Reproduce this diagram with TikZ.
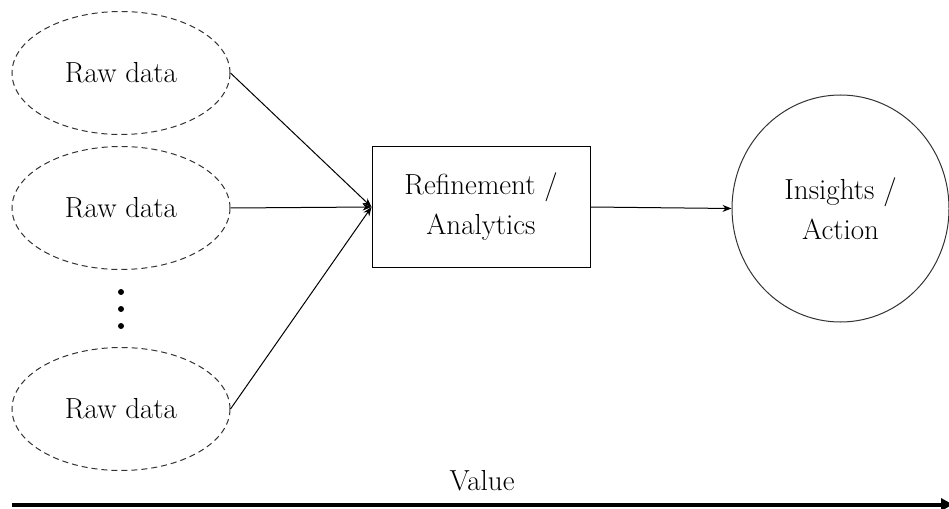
\documentclass[tikz,border=0pt]{standalone}
\usepackage{tikz}
\usetikzlibrary{shapes,arrows.meta,positioning,calc}

\begin{document}
\begin{tikzpicture}[
    x=1pt, y=-1pt,
    every node/.style={font=\fontsize{29}{40}\selectfont},
    source/.style={ellipse, draw=black!80, dashed, dash pattern=on 6pt off 4pt, line width=1pt, minimum width=218pt, minimum height=123pt, inner sep=0pt},
    process/.style={rectangle, draw, line width=1pt, minimum width=218pt, minimum height=121pt, align=center},
    result/.style={ellipse, draw=black!80, line width=1pt, minimum width=217pt, minimum height=227pt, align=center, inner sep=0pt},
    flow/.style={-{Stealth[length=9pt,width=7pt]}, line width=1pt},
]
    \useasboundingbox (0,0) rectangle (949,508);

    % Raw data sources
    \node[source] (raw_a) at (121,73) {Raw data};
    \node[source] (raw_b) at (121,208) {Raw data};
    \node[source] (raw_n) at (121,409) {Raw data};
    \foreach \y in {292,309,326}
        \fill (121,\y) circle (3pt);

    % Refinement and outcome
    \node[process] (refine) at (481,207) {Refinement /\\ Analytics};
    \node[result] (insight) at (840.5,208.5) {Insights /\\ Action};

    \draw[flow] (raw_a.east) -- (refine.west);
    \draw[flow] (raw_b.east) -- (refine.west);
    \draw[flow] (raw_n.east) -- (refine.west);
    \draw[flow] (refine.east) -- (insight.west);

    % Value axis
    \coordinate (value_start) at (12,504.5);
    \coordinate (value_end) at (953,504.5);
    \node (value) at (482,481) {Value};
    \draw[-{Triangle[length=12pt,width=12pt]}, line width=4pt] (value_start) -- (value_end);

\end{tikzpicture}
\end{document}
